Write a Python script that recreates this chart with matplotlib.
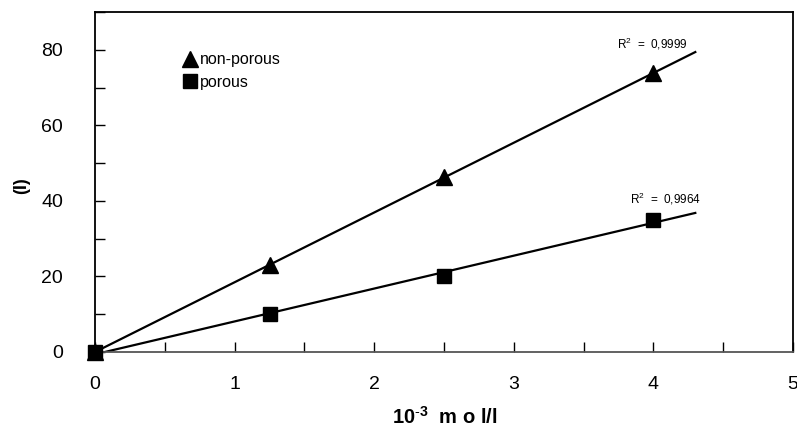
import numpy as np
import matplotlib
matplotlib.use("Agg")
import matplotlib.pyplot as plt
from matplotlib.ticker import MultipleLocator

plt.rcParams['font.family'] = ['Liberation Sans', 'DejaVu Sans']
plt.rcParams['mathtext.fontset'] = 'custom'
plt.rcParams['mathtext.rm'] = 'Liberation Sans'
plt.rcParams['mathtext.bf'] = 'Liberation Sans:bold'

conc = [0, 1.25, 2.5, 4.0]
non_porous = [0, 23.0, 46.3, 73.8]
porous = [0, 10.0, 20.0, 35.0]
labels = ["non-porous", "porous"]
r2_texts = ["R$^2$  =  0,9999", "R$^2$  =  0,9964"]
fit_end = 4.3

fig = plt.figure(figsize=(7.97, 4.29), dpi=100)
ax = fig.add_axes([0.1192, 0.1795, 0.995 - 0.1192, 0.972 - 0.1795])

xs = np.array(conc)
xfit = np.array([0, fit_end])
for ys, mk, lab in [(non_porous, '^', labels[0]), (porous, 's', labels[1])]:
    p = np.polyfit(xs, ys, 1)
    ax.plot(xfit, np.polyval(p, xfit), color='black', lw=1.6, zorder=2)
    ax.plot(xs, ys, linestyle='none', marker=mk, color='black', ms=11 if mk == '^' else 9.5,
            label=lab, zorder=3, clip_on=False)

ax.text(3.74, 79.3, r2_texts[0], fontsize=8.5, ha='left', va='bottom')
ax.text(3.83, 38.4, r2_texts[1], fontsize=8.5, ha='left', va='bottom')

ax.set_xlim(0, 5)
ax.set_ylim(0, 90)
ax.xaxis.set_major_locator(MultipleLocator(1))
ax.xaxis.set_minor_locator(MultipleLocator(0.5))
ax.yaxis.set_major_locator(MultipleLocator(20))
ax.yaxis.set_minor_locator(MultipleLocator(10))
ax.tick_params(which='both', direction='in', length=7, width=1.0, labelsize=14)
ax.tick_params(axis='x', which='both', pad=17)
ax.tick_params(axis='y', which='both', pad=23)
for s in ax.spines.values():
    s.set_linewidth(1.3)
ax.spines['bottom'].set_color('#555555')

ax.set_xlabel(r"10$^{\mathbf{\text{-}3}}$  m o l/l", fontsize=14.5, fontweight='bold')
ax.xaxis.set_label_coords(0.501, -0.16)
ax.set_ylabel("(I)", fontsize=13, fontweight='bold')
ax.yaxis.set_label_coords(-0.093, 0.49)

leg = ax.legend(loc='upper left', bbox_to_anchor=(0.115, 0.90), frameon=False, fontsize=11.5,
                handletextpad=0.05, handlelength=1.1, borderaxespad=0, labelspacing=0.45)

fig.savefig("out.png", dpi=100)
